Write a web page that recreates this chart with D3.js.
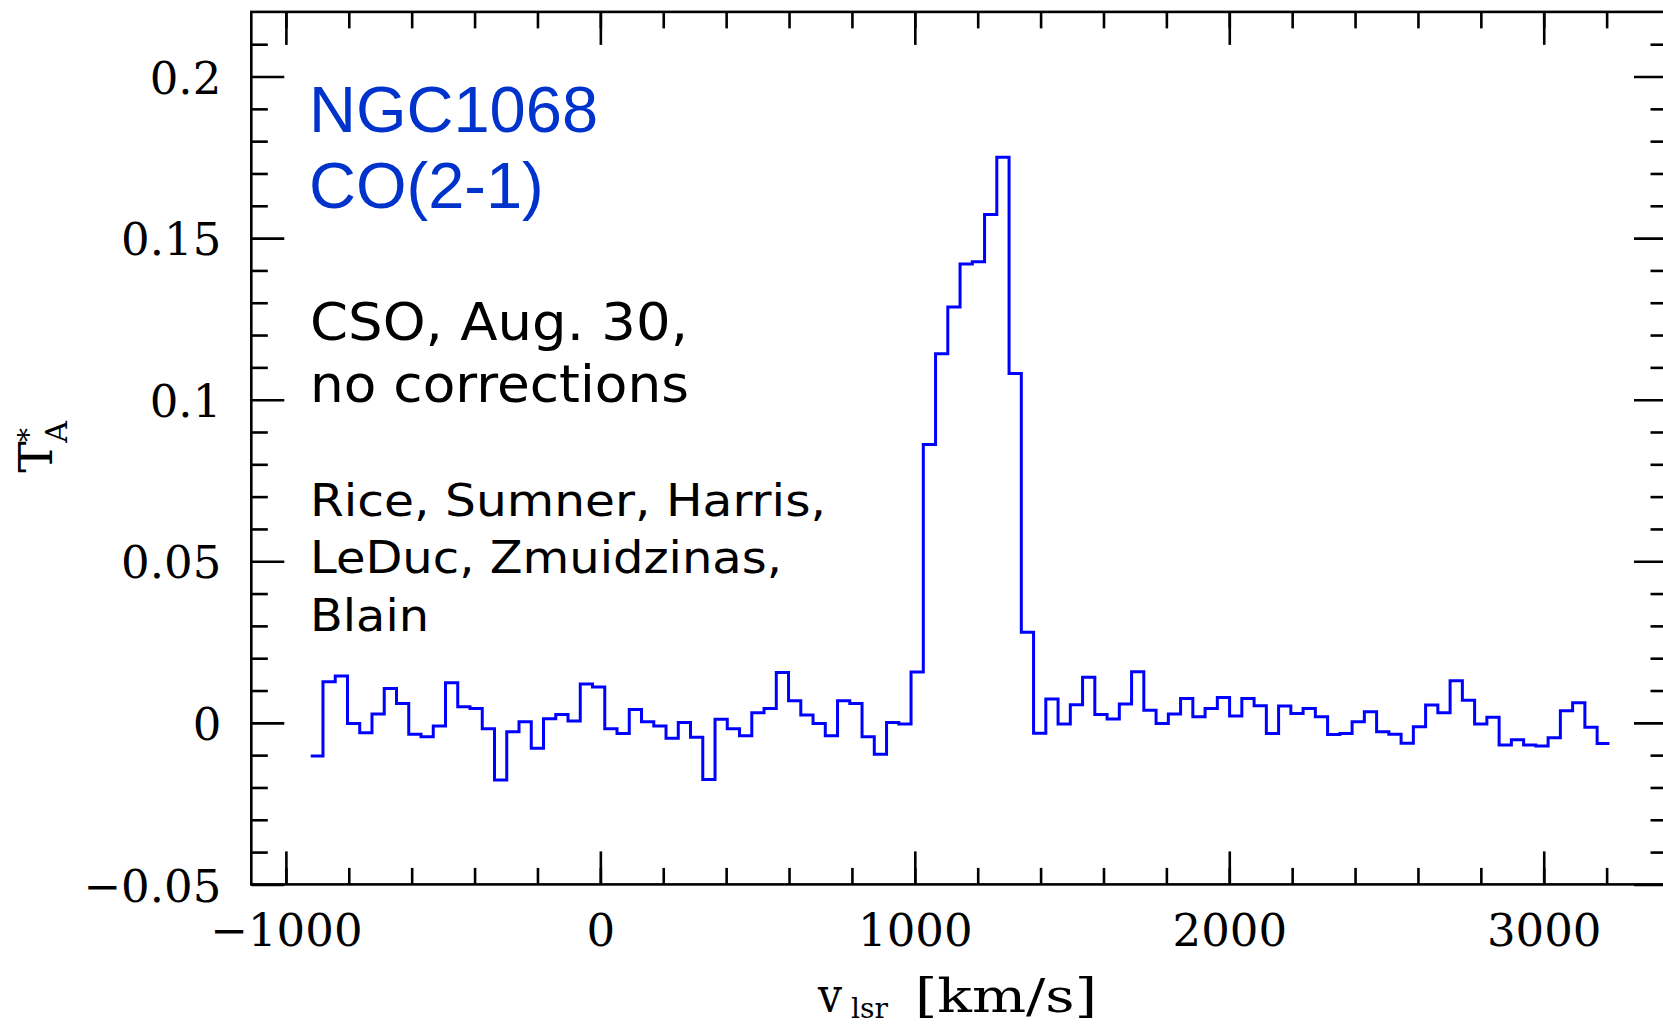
<!DOCTYPE html>
<html>
<head>
<meta charset="utf-8">
<script src="https://cdn.jsdelivr.net/npm/d3@7"></script>
<style>
  body { margin: 0; background: #fff; }
  svg { display: block; }
</style>
</head>
<body>
<div id="chart"></div>
<script>
const width = 1663
const height = 1026

// spectrum: CO(2-1) antenna temperature per channel
const channelStart = -921   // left edge of first channel, km/s
const channelWidth = 38.96  // km/s
const tA = [
  -0.0103, 0.0127, 0.0145, -0.0002, -0.0031, 0.0027, 0.0106, 0.0060, -0.0035, -0.0043,
  -0.0010, 0.0124, 0.0050, 0.0044, -0.0018, -0.0177, -0.0028, 0.0003, -0.0079, 0.0013,
  0.0026, 0.0006, 0.0120, 0.0111, -0.0018, -0.0033, 0.0041, 0.0003, -0.0010, -0.0048,
  0.0001, -0.0045, -0.0175, 0.0011, -0.0018, -0.0040, 0.0031, 0.0044, 0.0156, 0.0068,
  0.0024, -0.0002, -0.0040, 0.0068, 0.0060, -0.0043, -0.0097, 0.0001, -0.0004, 0.0157,
  0.0861, 0.1142, 0.1287, 0.1420, 0.1427, 0.1573, 0.1750, 0.1081, 0.0280, -0.0032,
  0.0074, -0.0004, 0.0056, 0.0141, 0.0026, 0.0012, 0.0058, 0.0158, 0.0039, -0.0002,
  0.0027, 0.0075, 0.0019, 0.0044, 0.0078, 0.0021, 0.0075, 0.0053, -0.0033, 0.0052,
  0.0029, 0.0044, 0.0019, -0.0036, -0.0033, 0.0003, 0.0034, -0.0028, -0.0035, -0.0063,
  -0.0012, 0.0055, 0.0031, 0.0130, 0.0070, -0.0004, 0.0017, -0.0069, -0.0052, -0.0069,
  -0.0072, -0.0046, 0.0037, 0.0062, -0.0014, -0.0064
]

// axes
const xDomain = [-1110, 3392]
const yDomain = [-0.05, 0.22]
const xMajorTicks = [-1000, 0, 1000, 2000, 3000]
const xMinorTicks = [-1000, -800, -600, -400, -200, 0, 200, 400, 600, 800, 1000, 1200, 1400, 1600, 1800, 2000, 2200, 2400, 2600, 2800, 3000, 3200]
const yMajorTicks = [-0.05, 0, 0.05, 0.1, 0.15, 0.2]
const yMinorTicks = [-0.04, -0.03, -0.02, -0.01, 0.01, 0.02, 0.03, 0.04, 0.06, 0.07, 0.08, 0.09, 0.11, 0.12, 0.13, 0.14, 0.16, 0.17, 0.18, 0.19, 0.21]

// annotations
const titleLines = ['NGC1068', 'CO(2-1)']
const noteLines = ['CSO, Aug. 30,', 'no corrections']
const authorLines = ['Rice, Sumner, Harris,', 'LeDuc, Zmuidzinas,', 'Blain']

const svg = d3.select('#chart').append('svg').attr('width', width).attr('height', height)

const x = d3.scaleLinear().domain(xDomain).range([251.3, 1667])
const y = d3.scaleLinear().domain(yDomain).range([884.4, 11.9])

const serif = 'DejaVu Serif, serif'
const sans = 'DejaVu Sans, sans-serif'

//ejes: ticks hacia dentro en los cuatro lados
function styleAxis(g) {
    g.select('.domain').remove()
    g.selectAll('line').attr('stroke', '#000').attr('stroke-width', 2.6)
    g.selectAll('text').attr('font-family', serif).attr('font-size', 45).attr('fill', '#000')
}

const bottomAxisGroup = svg.append('g').attr('transform', `translate(0, ${y(yDomain[0])})`)
bottomAxisGroup.append('g').call(d3.axisBottom(x).tickValues(xMinorTicks).tickSize(-16.5).tickFormat('')).call(styleAxis)
bottomAxisGroup.append('g').call(d3.axisBottom(x).tickValues(xMajorTicks).tickSize(-33).tickFormat(d3.format('d')))
    .call(styleAxis)
    .call(g => g.selectAll('text').attr('y', 62).attr('dy', null))

const topAxisGroup = svg.append('g').attr('transform', `translate(0, ${y(yDomain[1])})`)
topAxisGroup.append('g').call(d3.axisTop(x).tickValues(xMinorTicks).tickSize(-16.5).tickFormat('')).call(styleAxis)
topAxisGroup.append('g').call(d3.axisTop(x).tickValues(xMajorTicks).tickSize(-33).tickFormat('')).call(styleAxis)

const leftAxisGroup = svg.append('g').attr('transform', `translate(${x(xDomain[0])}, 0)`)
leftAxisGroup.append('g').call(d3.axisLeft(y).tickValues(yMinorTicks).tickSize(-16.5).tickFormat('')).call(styleAxis)
leftAxisGroup.append('g').call(d3.axisLeft(y).tickValues(yMajorTicks).tickSize(-33).tickFormat(d3.format('~g')))
    .call(styleAxis)
    .call(g => g.selectAll('text').attr('x', -30).attr('dy', '0.37em'))

const rightAxisGroup = svg.append('g').attr('transform', `translate(${x(xDomain[1])}, 0)`)
rightAxisGroup.append('g').call(d3.axisRight(y).tickValues(yMinorTicks).tickSize(-16.5).tickFormat('')).call(styleAxis)
rightAxisGroup.append('g').call(d3.axisRight(y).tickValues(yMajorTicks).tickSize(-33).tickFormat('')).call(styleAxis)

// marco
svg.append('rect')
    .attr('x', x(xDomain[0])).attr('y', y(yDomain[1]))
    .attr('width', x(xDomain[1]) - x(xDomain[0]))
    .attr('height', y(yDomain[0]) - y(yDomain[1]))
    .attr('fill', 'none').attr('stroke', '#000').attr('stroke-width', 2.6)

// histograma del espectro (bordes de canal + curveStepAfter)
const steps = tA.map((v, i) => [channelStart + i * channelWidth, v])
steps.push([channelStart + tA.length * channelWidth, tA[tA.length - 1]])

svg.append('path')
    .datum(steps)
    .attr('fill', 'none')
    .attr('stroke', '#0000ff')
    .attr('stroke-width', 3)
    .attr('stroke-linejoin', 'miter')
    .attr('d', d3.line().x(d => x(d[0])).y(d => y(d[1])).curve(d3.curveStepAfter))

// etiqueta eje x: v_lsr [km/s]
const xl = svg.append('g').attr('font-family', serif).attr('fill', '#000')
xl.append('text').attr('x', 818).attr('y', 1012).attr('font-size', 48)
    .attr('textLength', 24).attr('lengthAdjust', 'spacingAndGlyphs').text('v')
xl.append('text').attr('x', 851).attr('y', 1018).attr('font-size', 27)
    .attr('textLength', 37).attr('lengthAdjust', 'spacingAndGlyphs').text('lsr')
xl.append('text').attr('x', 915).attr('y', 1012).attr('font-size', 46)
    .attr('textLength', 182).attr('lengthAdjust', 'spacingAndGlyphs').text('[km/s]')

// etiqueta eje y: T*_A
const yl = svg.append('g').attr('transform', 'translate(52, 457) rotate(-90)')
    .attr('font-family', serif).attr('fill', '#000').attr('text-anchor', 'middle')
yl.append('text').attr('x', 0).attr('y', 0).attr('font-size', 47).text('T')
yl.append('text').attr('x', 22).attr('y', -14.5).attr('font-size', 28).text('*')
yl.append('text').attr('x', 25).attr('y', 15).attr('font-size', 30).text('A')

// textos
svg.append('g').selectAll('text').data(titleLines).join('text')
    .attr('x', 309).attr('y', (d, i) => 131.7 + i * 76)
    .attr('font-family', 'Liberation Sans, Arial, sans-serif').attr('font-size', 65)
    .attr('fill', '#0033cc').text(d => d)

const noteLengths = [378, 379]
svg.append('g').selectAll('text').data(noteLines).join('text')
    .attr('x', 310).attr('y', (d, i) => 340 + i * 62)
    .attr('font-family', sans).attr('font-size', 51).attr('fill', '#000')
    .attr('textLength', (d, i) => noteLengths[i]).attr('lengthAdjust', 'spacingAndGlyphs')
    .text(d => d)

const authorLengths = [516, 472, 119]
svg.append('g').selectAll('text').data(authorLines).join('text')
    .attr('x', 310).attr('y', (d, i) => 515.5 + i * 57.5)
    .attr('font-family', sans).attr('font-size', 44).attr('fill', '#000')
    .attr('textLength', (d, i) => authorLengths[i]).attr('lengthAdjust', 'spacingAndGlyphs')
    .text(d => d)
</script>
</body>
</html>
